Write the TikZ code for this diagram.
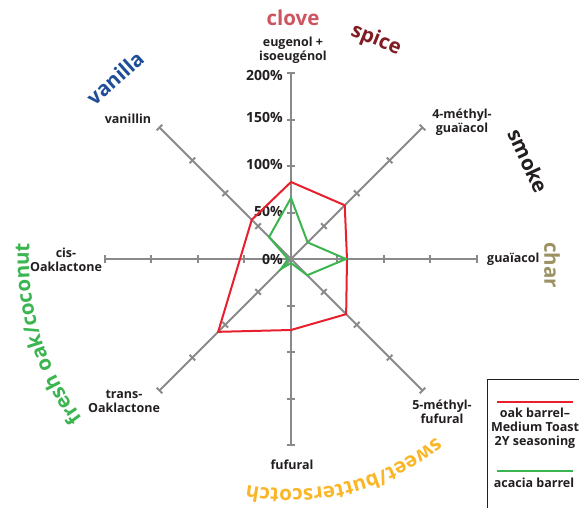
\documentclass[tikz,border=0pt]{standalone}
\usepackage{fontspec}
\setmainfont{Open Sans}
\usetikzlibrary{decorations.text}
\definecolor{axisgray}{RGB}{138,138,140}
\definecolor{oakred}{RGB}{232,32,45}
\definecolor{acaciagreen}{RGB}{59,181,80}
\definecolor{inkblack}{RGB}{35,31,32}
\definecolor{clovecol}{RGB}{205,85,95}
\definecolor{spicecol}{RGB}{128,28,36}
\definecolor{vanillacol}{RGB}{30,78,152}
\definecolor{charcol}{RGB}{155,145,98}
\definecolor{sweetcol}{RGB}{251,182,40}
\definecolor{freshcol}{RGB}{59,181,80}

\begin{document}
\begin{tikzpicture}[x=1pt,y=1pt,
  axis/.style={axisgray,line width=2pt},
  compound/.style={font=\bfseries\fontsize{12.5}{14}\selectfont,align=center,text=inkblack,inner sep=1pt},
  pct/.style={font=\bfseries\fontsize{14}{16}\selectfont,text=inkblack,anchor=east,inner sep=1pt},
  flavour/.style={font=\bfseries\fontsize{20.5}{22}\selectfont,inner sep=0pt},
  series/.style={line width=2pt}]
\useasboundingbox (-291,-248) rectangle (288,259);

% axes with ticks every 50%
\foreach \a in {0,45,...,315} {
  \draw[axis] (0,0) -- (\a:186);
  \foreach \r in {46.5,93,139.5,186}
    \draw[axis] (\a:\r) ++(\a+90:4) -- ++(\a-90:8);
}

% scale
\foreach \v/\r in {0/0,50/48,100/95,150/142,200/184}
  \node[pct] (pct\v) at (-7,\r) {\v\%};

% data
\draw[series,oakred] (90:77) -- (45:76) -- (0:56) -- (-45:78) -- (-90:71)
  -- (-135:103) -- (180:51) -- (135:55.5) -- cycle;
\draw[series,acaciagreen] (90:61) -- (45:23.5) -- (0:55) -- (-45:23) -- (-90:4)
  -- (-135:14) -- (180:3) -- (135:31) -- cycle;

% compounds
\node[compound] (eugenol) at (2,209) {eugenol +\\isoeugénol};
\node[compound] (methylguaiacol) at (171,137) {4-méthyl-\\guaïacol};
\node[compound,anchor=west] (guaiacol) at (195,0) {guaïacol};
\node[compound] (methylfurfural) at (151,-153) {5-méthyl-\\fufural};
\node[compound] (furfural) at (1,-206) {fufural};
\node[compound] (transoak) at (-167,-142) {trans-\\Oaklactone};
\node[compound] (cisoak) at (-225,-1) {cis-\\Oaklactone};
\node[compound] (vanillin) at (-163,140) {vanillin};

% flavours
\node[flavour,text=clovecol] (clove) at (2,241) {clove};
\node[flavour,text=spicecol,rotate=-22] (spice) at (85,219) {spice};
\node[flavour,text=vanillacol,rotate=42] (vanilla) at (-176,181) {vanilla};
\node[flavour,text=inkblack,rotate=-65] (smoke) at (237,98) {smoke};
\node[flavour,text=charcol,rotate=-90] (char) at (261,-6) {char};
\path[decorate,decoration={text along path,text align=center,
  text={|\color{sweetcol}\bfseries\fontsize{20.5}{22}\selectfont|sweet/butterscotch}}]
  (-30:230) arc[start angle=-30,end angle=-122,radius=230];
\path[decorate,decoration={text along path,text align=center,
  text={|\color{freshcol}\bfseries\fontsize{20.5}{22}\selectfont|fresh oak/coconut}}]
  (240:262) arc[start angle=240,end angle=154,radius=262];

% legend
\draw[inkblack,line width=0.8pt] (196,-252) -- (196,-120) -- (292,-120);
\coordinate (oakA) at (206,-143);
\coordinate (oakB) at (282,-143);
\draw[series,oakred] (oakA) -- (oakB);
\node[compound] (oaklabel) at (244,-169) {oak barrel–\\Medium Toast\\2Y seasoning};
\coordinate (acaciaA) at (206,-212);
\coordinate (acaciaB) at (282,-212);
\draw[series,acaciagreen] (acaciaA) -- (acaciaB);
\node[compound] (acacialabel) at (243,-224) {acacia barrel};
\end{tikzpicture}
\end{document}
